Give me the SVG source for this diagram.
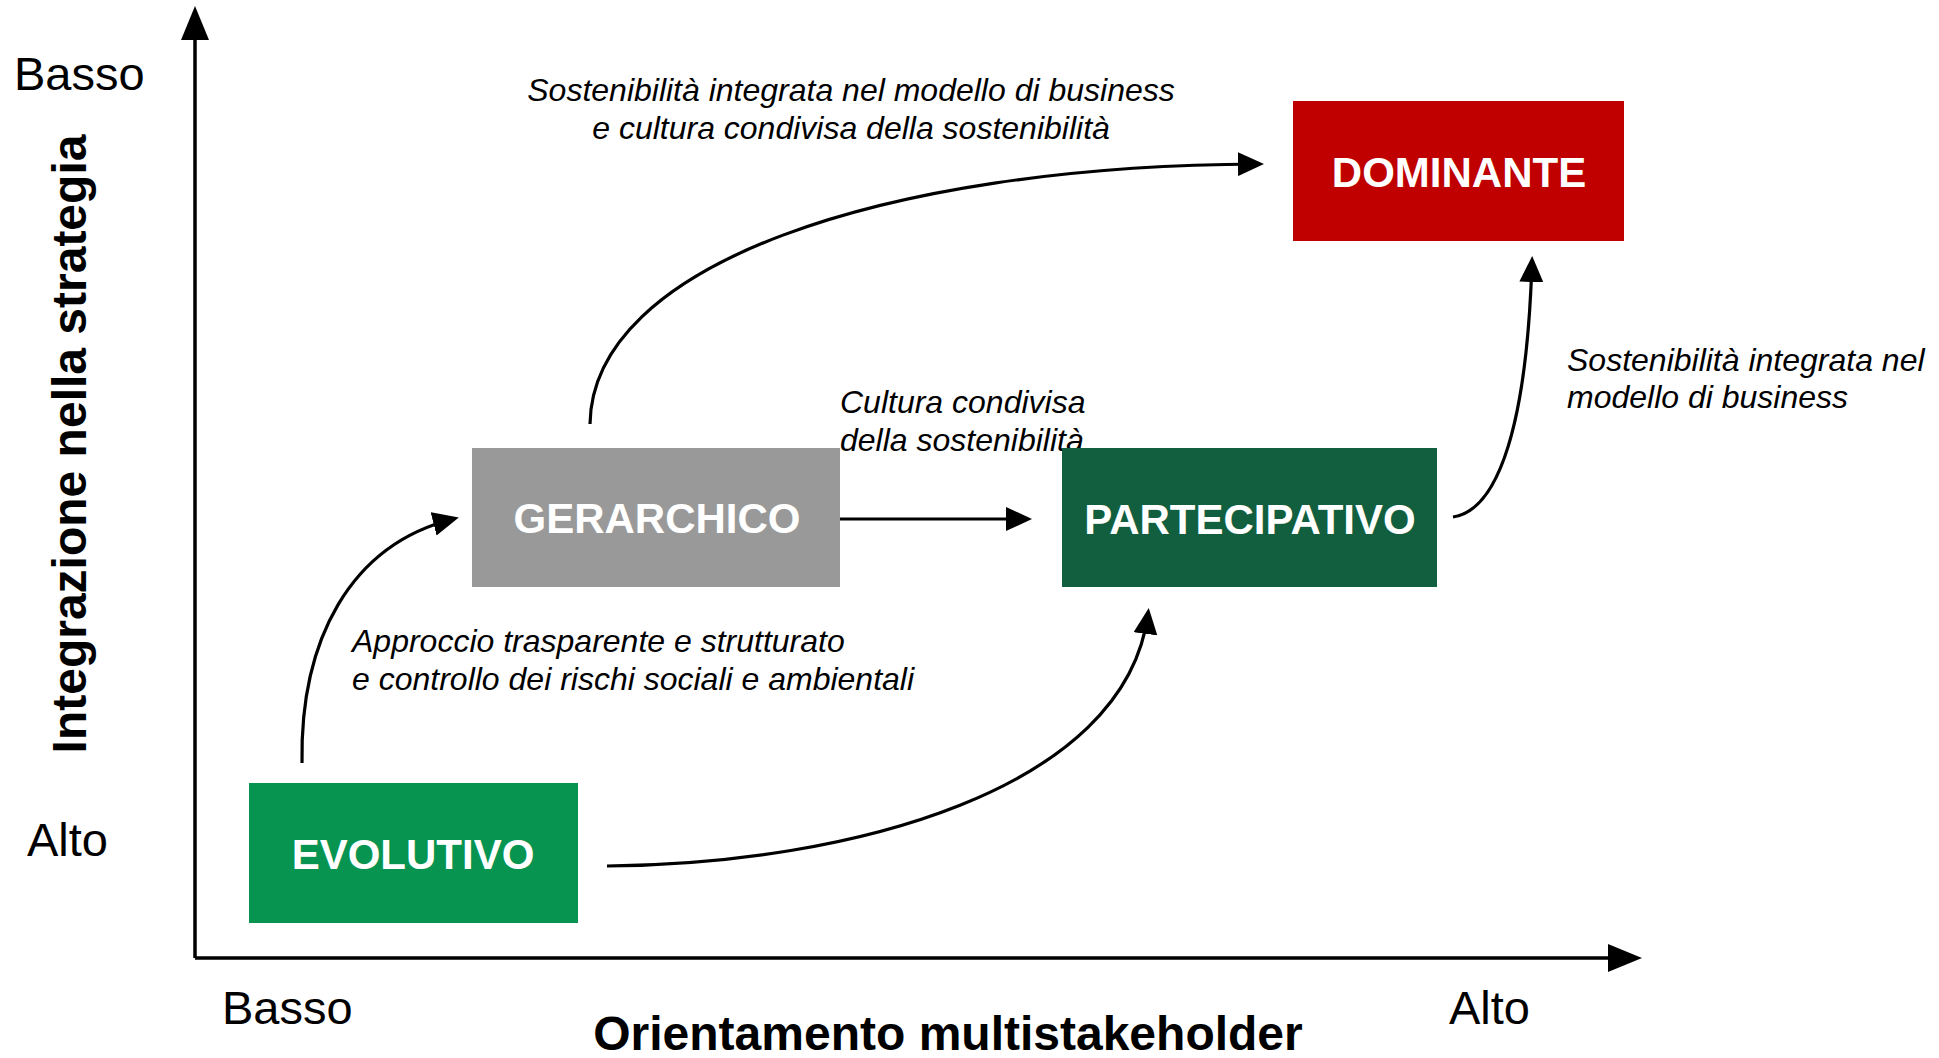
<svg xmlns="http://www.w3.org/2000/svg" width="1939" height="1058" viewBox="0 0 1939 1058">
<style>
.ax{fill:#000;font-family:"Liberation Sans",Arial,sans-serif;font-size:47px}
.title{fill:#000;font-family:"Liberation Sans",Arial,sans-serif;font-size:48px;font-weight:bold}
.lbl{fill:#000;font-family:"Liberation Sans",Arial,sans-serif;font-size:32px;font-style:italic}
.box text{fill:#fff;font-family:"Liberation Sans",Arial,sans-serif;font-size:42px;font-weight:bold;text-anchor:middle}
.conn path{fill:none;stroke:#000;stroke-width:3.2}
.axis{fill:none;stroke:#000;stroke-width:3.5}
</style>
<defs>
<marker id="ah" markerUnits="userSpaceOnUse" markerWidth="26" markerHeight="24" refX="20" refY="12" orient="auto">
<path d="M0,0 L26,12 L0,24 z" fill="#000"/>
</marker>
<marker id="axh" markerUnits="userSpaceOnUse" markerWidth="34" markerHeight="28" refX="28" refY="14" orient="auto">
<path d="M0,0 L34,14 L0,28 z" fill="#000"/>
</marker>
</defs>
<rect width="1939" height="1058" fill="#fff"/>
<g id="axes">
<path class="axis" d="M195,958 L195,12" marker-end="url(#axh)"/>
<path class="axis" d="M195,958 L1636,958" marker-end="url(#axh)"/>
<text class="ax" x="14" y="90">Basso</text>
<text class="ax" x="27" y="856">Alto</text>
<text class="ax" x="222" y="1024">Basso</text>
<text class="ax" x="1449" y="1024">Alto</text>
<text class="title" x="948" y="1050" text-anchor="middle">Orientamento multistakeholder</text>
<text class="title" transform="translate(86,444) rotate(-90)" text-anchor="middle">Integrazione nella strategia</text>
</g>
<g id="connectors" class="conn">
<path d="M302,763 C300,640 350,545 453,519" marker-end="url(#ah)"/>
<path d="M835,519 L1026,519" marker-end="url(#ah)"/>
<path d="M590,424 C592,265 880,166 1258,164" marker-end="url(#ah)"/>
<path d="M1453,517 C1500,510 1527,420 1532,262" marker-end="url(#ah)"/>
<path d="M607,866 C850,864 1125,790 1148,614" marker-end="url(#ah)"/>
</g>
<g id="labels">
<text class="lbl" x="851" y="101" text-anchor="middle">Sostenibilità integrata nel modello di business</text>
<text class="lbl" x="851" y="139" text-anchor="middle">e cultura condivisa della sostenibilità</text>
<text class="lbl" x="840" y="413">Cultura condivisa</text>
<text class="lbl" x="840" y="451">della sostenibilità</text>
<text class="lbl" x="1567" y="371">Sostenibilità integrata nel</text>
<text class="lbl" x="1567" y="408">modello di business</text>
<text class="lbl" x="352" y="652">Approccio trasparente e strutturato</text>
<text class="lbl" x="352" y="690">e controllo dei rischi sociali e ambientali</text>
</g>
<g id="node-dominante" class="box">
<rect x="1293" y="101" width="331" height="140" fill="#C00000"/>
<text x="1459" y="187">DOMINANTE</text>
</g>
<g id="node-gerarchico" class="box">
<rect x="472" y="448" width="368" height="139" fill="#999999"/>
<text x="657" y="533">GERARCHICO</text>
</g>
<g id="node-partecipativo" class="box">
<rect x="1062" y="448" width="375" height="139" fill="#115F3F"/>
<text x="1250" y="534">PARTECIPATIVO</text>
</g>
<g id="node-evolutivo" class="box">
<rect x="249" y="783" width="329" height="140" fill="#069450"/>
<text x="413" y="869">EVOLUTIVO</text>
</g>
</svg>
